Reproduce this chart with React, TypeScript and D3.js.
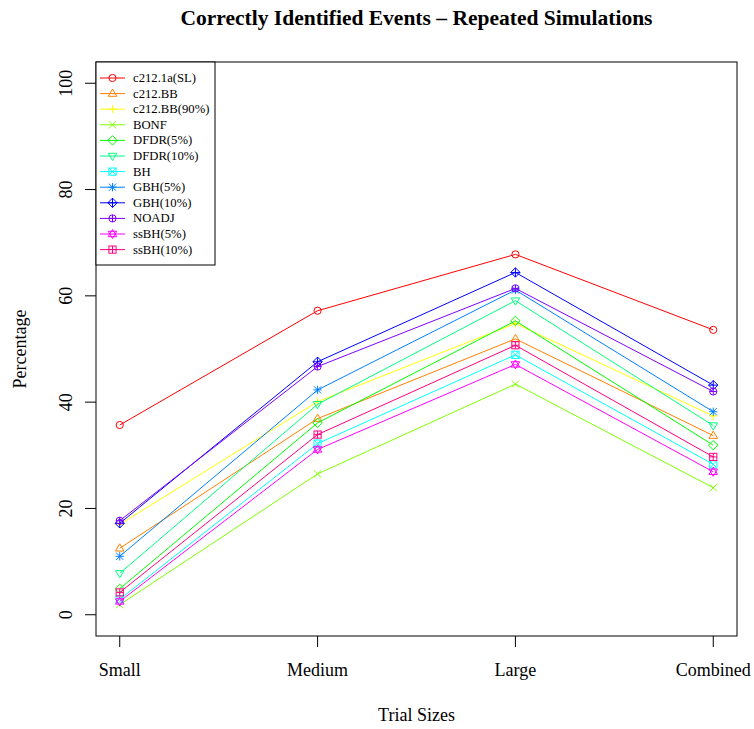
import React from "react";
import * as d3 from "d3";

const categories = ["Small", "Medium", "Large", "Combined"];
const seriesNames = [
  "c212.1a(SL)", "c212.BB", "c212.BB(90%)", "BONF", "DFDR(5%)", "DFDR(10%)",
  "BH", "GBH(5%)", "GBH(10%)", "NOADJ", "ssBH(5%)", "ssBH(10%)",
];
const c212_1a = [35.7, 57.2, 67.8, 53.6];
const c212_BB = [12.5, 36.9, 51.9, 33.7];
const c212_BB90 = [17.0, 40.1, 54.8, 37.4];
const bonf = [1.9, 26.5, 43.4, 23.9];
const dfdr5 = [4.9, 36.1, 55.3, 31.9];
const dfdr10 = [7.8, 39.6, 59.1, 35.6];
const bh = [2.9, 32.2, 48.9, 28.3];
const gbh5 = [11.0, 42.3, 61.1, 38.2];
const gbh10 = [17.2, 47.6, 64.4, 43.2];
const noadj = [17.7, 46.7, 61.4, 42.0];
const ssbh5 = [2.5, 31.1, 47.1, 26.9];
const ssbh10 = [4.2, 33.9, 50.7, 29.7];
const seriesValues = [c212_1a, c212_BB, c212_BB90, bonf, dfdr5, dfdr10, bh, gbh5, gbh10, noadj, ssbh5, ssbh10];
const yTicks = [0, 20, 40, 60, 80, 100];
const colors = [
  "#FF0000", "#FF8000", "#FFFF00", "#80FF00", "#00FF00", "#00FF80",
  "#00FFFF", "#0080FF", "#0000FF", "#8000FF", "#FF00FF", "#FF0080",
];

const W = 754, H = 729;
const left = 96, right = 737, top = 62, bottom = 636;
const font = "'Liberation Serif', 'Times New Roman', serif";

// R-style plotting symbols pch 1..12
function Symbol({ pch, x, y, color }: { pch: number; x: number; y: number; color: string }) {
  const r = 3.6;
  const common = { fill: "none", stroke: color, strokeWidth: 1 };
  const tri = (s: number) => {
    const h = r * 1.25;
    return `M${x},${y - s * h} L${x + h * 0.95},${y + s * h * 0.6} L${x - h * 0.95},${y + s * h * 0.6} Z`;
  };
  const plus = <path d={`M${x - r * 1.15},${y} H${x + r * 1.15} M${x},${y - r * 1.15} V${y + r * 1.15}`} {...common} />;
  const cross = <path d={`M${x - r},${y - r} L${x + r},${y + r} M${x - r},${y + r} L${x + r},${y - r}`} {...common} />;
  const diamond = <path d={`M${x},${y - r * 1.3} L${x + r * 1.3},${y} L${x},${y + r * 1.3} L${x - r * 1.3},${y} Z`} {...common} />;
  const square = <rect x={x - r} y={y - r} width={2 * r} height={2 * r} {...common} />;
  switch (pch) {
    case 1: return <circle cx={x} cy={y} r={r} {...common} />;
    case 2: return <path d={tri(1)} {...common} />;
    case 3: return plus;
    case 4: return cross;
    case 5: return diamond;
    case 6: return <path d={tri(-1)} {...common} />;
    case 7: return <g>{square}<path d={`M${x - r},${y - r} L${x + r},${y + r} M${x - r},${y + r} L${x + r},${y - r}`} {...common} /></g>;
    case 8: return <g>{plus}{cross}</g>;
    case 9: return <g>{diamond}<path d={`M${x - r * 1.3},${y} H${x + r * 1.3} M${x},${y - r * 1.3} V${y + r * 1.3}`} {...common} /></g>;
    case 10: return <g><circle cx={x} cy={y} r={r} {...common} /><path d={`M${x - r},${y} H${x + r} M${x},${y - r} V${y + r}`} {...common} /></g>;
    case 11: return <g><path d={tri(1)} {...common} /><path d={tri(-1)} {...common} /></g>;
    case 12: return <g>{square}<path d={`M${x - r},${y} H${x + r} M${x},${y - r} V${y + r}`} {...common} /></g>;
    default: return null;
  }
}

export default function App() {
  const x = d3.scaleLinear().domain([0.88, 4.12]).range([left, right]);
  const y = d3.scaleLinear().domain([-4, 104]).range([bottom, top]);
  const line = d3.line<number>().x((_, i) => x(i + 1)).y((d) => y(d));

  const legX = left, legY = top, legW = 119, legH = 203;
  const rowH = 15.6;

  return (
    <svg width={W} height={H} style={{ position: "absolute", left: 0, top: 0, background: "#fff" }} fontFamily={font}>
      <rect width={W} height={H} fill="#fff" />
      <text x={(left + right) / 2} y={25} textAnchor="middle" fontSize={21.5} fontWeight="bold">
        Correctly Identified Events – Repeated Simulations
      </text>

      {seriesValues.map((vals, si) => (
        <g key={seriesNames[si]}>
          <path d={line(vals) || ""} fill="none" stroke={colors[si]} strokeWidth={1} />
          {vals.map((v, i) => (
            <Symbol key={i} pch={si + 1} x={x(i + 1)} y={y(v)} color={colors[si]} />
          ))}
        </g>
      ))}

      <rect x={left} y={top} width={right - left} height={bottom - top} fill="none" stroke="#000" strokeWidth={1} />

      {/* x axis */}
      {categories.map((c, i) => (
        <g key={c}>
          <line x1={x(i + 1)} x2={x(i + 1)} y1={bottom} y2={bottom + 11} stroke="#000" />
          <text x={x(i + 1)} y={676} textAnchor="middle" fontSize={18}>{c}</text>
        </g>
      ))}
      {/* y axis */}
      {yTicks.map((t) => (
        <g key={t}>
          <line x1={left} x2={left - 11} y1={y(t)} y2={y(t)} stroke="#000" />
          <text transform={`translate(72,${y(t)}) rotate(-90)`} textAnchor="middle" fontSize={18}>{t}</text>
        </g>
      ))}
      <text x={(left + right) / 2} y={721} textAnchor="middle" fontSize={18}>Trial Sizes</text>
      <text transform={`translate(26,${(top + bottom) / 2}) rotate(-90)`} textAnchor="middle" fontSize={18}>Percentage</text>

      {/* legend */}
      <rect x={legX} y={legY} width={legW} height={legH} fill="#fff" stroke="#000" />
      {seriesNames.map((n, i) => {
        const cy = legY + 16 + i * rowH;
        return (
          <g key={n}>
            <line x1={legX + 4} x2={legX + 29} y1={cy} y2={cy} stroke={colors[i]} />
            <Symbol pch={i + 1} x={legX + 16.5} y={cy} color={colors[i]} />
            <text x={legX + 37} y={cy + 4} fontSize={12.7}>{n}</text>
          </g>
        );
      })}
    </svg>
  );
}
